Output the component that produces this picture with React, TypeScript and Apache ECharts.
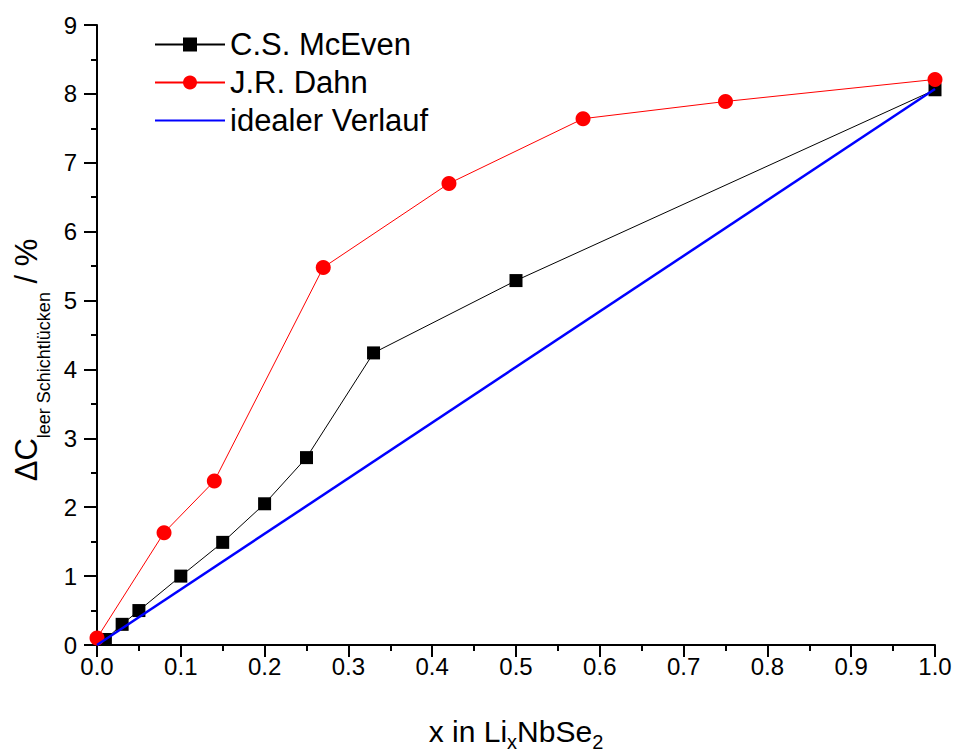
import React, { useEffect, useRef } from "react";
import * as echarts from "echarts";

const mcEvenX = [0.01, 0.03, 0.05, 0.1, 0.15, 0.2, 0.25, 0.33, 0.5, 1.0];
const mcEvenY = [0.08, 0.3, 0.5, 1.0, 1.49, 2.05, 2.72, 4.24, 5.29, 8.06];
const dahnX = [0.0, 0.08, 0.14, 0.27, 0.42, 0.58, 0.75, 1.0];
const dahnY = [0.1, 1.63, 2.38, 5.48, 6.7, 7.64, 7.89, 8.21];
const idealX = [0.0, 1.0];
const idealY = [0.0, 8.07];
const seriesNames = ["C.S. McEven", "J.R. Dahn", "idealer Verlauf"];

const FONT = "'Liberation Sans', Arial, Helvetica, sans-serif";

function zip(xs: number[], ys: number[]) {
  return xs.map((x, i) => [x, ys[i]]);
}

export default function App() {
  const ref = useRef<HTMLDivElement>(null);
  useEffect(() => {
    if (!ref.current) return;
    const chart = echarts.init(ref.current, null, { renderer: "svg" });
    const axisCommon = {
      axisLine: { show: true, lineStyle: { color: "#000", width: 2 } },
      axisTick: { show: true, inside: false, length: 12, lineStyle: { color: "#000", width: 2 } },
      minorTick: { show: true, splitNumber: 2, length: 6, lineStyle: { color: "#000", width: 2 } },
      splitLine: { show: false },
      minorSplitLine: { show: false },
    };
    chart.setOption({
      animation: false,
      backgroundColor: "#fff",
      grid: { left: 97, right: 20, top: 25, bottom: 108, containLabel: false, outerBoundsMode: "none" },
      legend: {
        show: true,
        left: 149,
        top: 24,
        orient: "vertical",
        itemWidth: 70,
        itemHeight: 17.5,
        itemGap: 7,
        textStyle: { fontFamily: FONT, fontSize: 31, lineHeight: 31, color: "#000" },
        data: [
          { name: seriesNames[0] },
          { name: seriesNames[1] },
          { name: seriesNames[2], itemStyle: { color: "rgba(0,0,0,0)", borderWidth: 0 } },
        ],
      },
      xAxis: {
        type: "value",
        min: 0,
        max: 1,
        interval: 0.1,
        ...axisCommon,
        axisLabel: {
          fontFamily: FONT,
          fontSize: 24,
          color: "#000",
          margin: 9,
          formatter: (v: number) => v.toFixed(1),
        },
        name: "{m|x in Li}{sub|x}{m|NbSe}{sub|2}",
        nameLocation: "middle",
        nameGap: 71,
        nameTextStyle: {
          fontFamily: FONT,
          fontSize: 30,
          color: "#000",
          rich: {
            m: {
              fontFamily: FONT,
              fontSize: 30,
              color: "#000",
              height: 30,
              lineHeight: 30,
              verticalAlign: "top",
            },
            sub: {
              fontFamily: FONT,
              fontSize: 20,
              color: "#000",
              height: 20,
              lineHeight: 36,
              padding: [16, 0, 0, 0],
              verticalAlign: "bottom",
            },
          },
        },
      },
      yAxis: {
        type: "value",
        min: 0,
        max: 9,
        interval: 1,
        ...axisCommon,
        axisTick: { show: true, inside: false, length: 13, lineStyle: { color: "#000", width: 2 } },
        axisLabel: {
          fontFamily: FONT,
          fontSize: 24,
          color: "#000",
          margin: 20,
        },
        name: "{m|ΔC}{sub|leer Schichtlücken}{m| / %}",
        nameLocation: "middle",
        nameGap: 40,
        nameRotate: 90,
        nameTextStyle: {
          fontFamily: FONT,
          fontSize: 30,
          color: "#000",
          padding: [0, 50, 0, 0],
          rich: {
            m: {
              fontFamily: FONT,
              fontSize: 31,
              color: "#000",
              height: 31,
              lineHeight: 31,
              verticalAlign: "top",
            },
            sub: {
              fontFamily: FONT,
              fontSize: 18,
              color: "#000",
              height: 18,
              lineHeight: 42,
              padding: [24, 0, 0, 0],
              verticalAlign: "bottom",
            },
          },
        },
      },
      series: [
        {
          name: seriesNames[0],
          type: "line",
          data: zip(mcEvenX, mcEvenY),
          symbol: "rect",
          symbolSize: 13,
          lineStyle: { color: "#000", width: 1 },
          itemStyle: { color: "#000" },
          clip: false,
          z: 2,
        },
        {
          name: seriesNames[1],
          type: "line",
          data: zip(dahnX, dahnY),
          symbol: "circle",
          symbolSize: 15,
          lineStyle: { color: "#ff0000", width: 1 },
          itemStyle: { color: "#ff0000" },
          clip: false,
          z: 3,
        },
        {
          name: seriesNames[2],
          type: "line",
          data: zip(idealX, idealY),
          symbol: "none",
          showSymbol: false,
          lineStyle: { color: "#0000ff", width: 2.5 },
          itemStyle: { color: "#0000ff" },
          z: 4,
        },
      ],
    });
    return () => chart.dispose();
  }, []);
  return <div ref={ref} style={{ width: 955, height: 753, position: "absolute", left: 0, top: 0 }} />;
}
